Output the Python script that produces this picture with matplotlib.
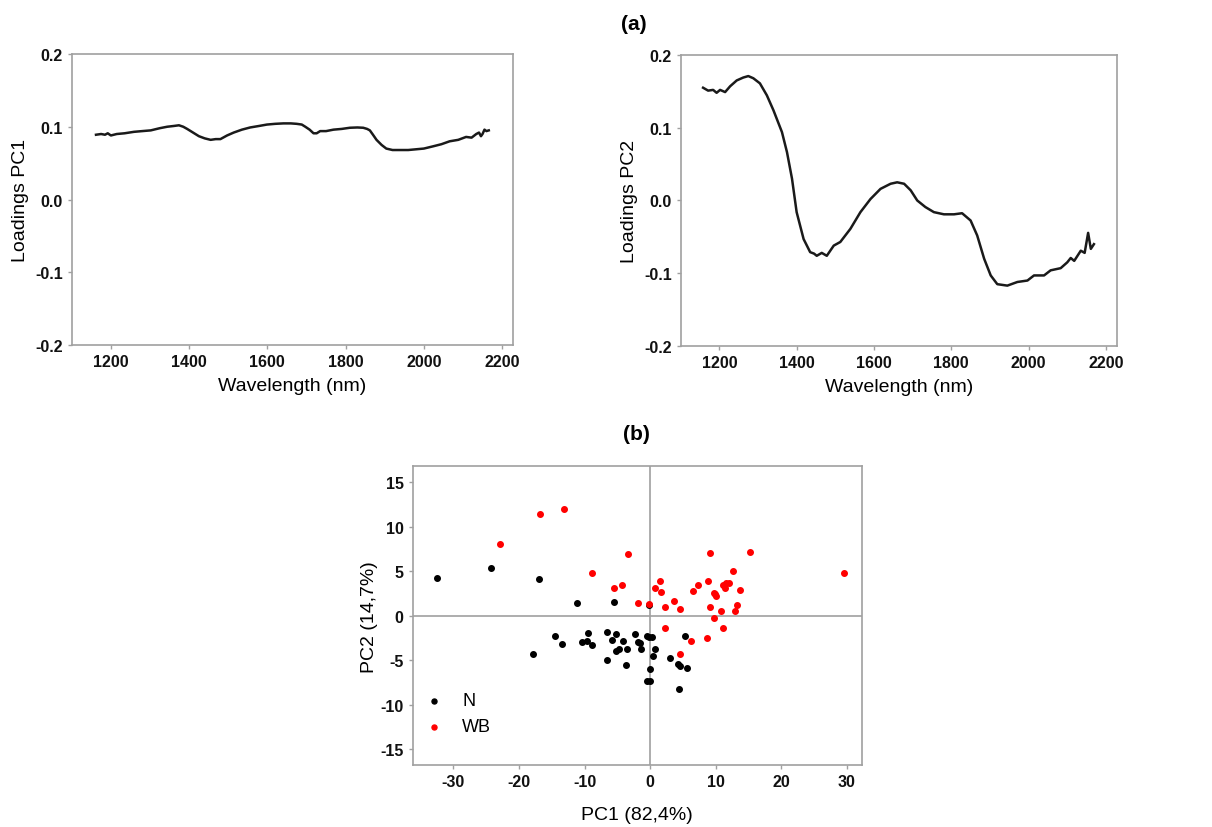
import numpy as np
import matplotlib
matplotlib.use('Agg')
import matplotlib.pyplot as plt

plt.rcParams['font.family'] = ['Liberation Sans', 'DejaVu Sans']
plt.rcParams['axes.unicode_minus'] = False

# loadings PC1
wl_pc1 = [1162, 1175, 1185, 1192, 1200, 1215, 1235, 1259, 1280, 1302, 1325, 1344, 1360, 1374,
          1385, 1395, 1410, 1425, 1440, 1455, 1468, 1480, 1497, 1514, 1535, 1556, 1578, 1599,
          1620, 1641, 1660, 1675, 1688, 1697, 1708, 1718, 1726, 1735, 1750, 1769, 1790, 1811,
          1830, 1845, 1855, 1862, 1870, 1879, 1892, 1904, 1920, 1938, 1960, 1980, 2000, 2023,
          2045, 2066, 2088, 2108, 2122, 2134, 2141, 2146, 2150, 2155, 2160, 2166]
pc1 = [0.089, 0.090, 0.089, 0.091, 0.088, 0.090, 0.091, 0.093, 0.094, 0.095, 0.098, 0.100,
       0.101, 0.102, 0.100, 0.097, 0.092, 0.087, 0.084, 0.082, 0.083, 0.083, 0.088, 0.092,
       0.096, 0.099, 0.101, 0.103, 0.104, 0.1046, 0.1046, 0.104, 0.103, 0.100, 0.096, 0.091,
       0.091, 0.094, 0.094, 0.096, 0.097, 0.0986, 0.099, 0.0986, 0.097, 0.095, 0.089, 0.082,
       0.075, 0.070, 0.068, 0.068, 0.068, 0.069, 0.070, 0.073, 0.076, 0.080, 0.082, 0.086,
       0.085, 0.090, 0.092, 0.087, 0.090, 0.096, 0.094, 0.095]

# loadings PC2
wl_pc2 = [1158, 1171, 1184, 1193, 1202, 1215, 1228, 1245, 1262, 1275, 1288, 1305, 1323, 1340,
          1362, 1375, 1388, 1400, 1418, 1435, 1445, 1452, 1465, 1478, 1496, 1513, 1539, 1565,
          1591, 1617, 1643, 1660, 1678, 1695, 1712, 1733, 1755, 1781, 1807, 1828, 1850, 1867,
          1885, 1902, 1919, 1945, 1971, 1997, 2014, 2040, 2057, 2083, 2100, 2109, 2118, 2135,
          2145, 2154, 2161, 2169]
pc2 = [0.155, 0.151, 0.152, 0.148, 0.152, 0.149, 0.157, 0.165, 0.169, 0.171, 0.168, 0.161,
       0.1445, 0.124, 0.094, 0.0665, 0.030, -0.016, -0.053, -0.071, -0.073, -0.076, -0.072,
       -0.076, -0.062, -0.057, -0.039, -0.016, 0.002, 0.016, 0.023, 0.025, 0.023, 0.014, 0.000,
       -0.009, -0.016, -0.019, -0.019, -0.0175, -0.0275, -0.048, -0.080, -0.103, -0.115, -0.117,
       -0.112, -0.110, -0.103, -0.103, -0.096, -0.093, -0.085, -0.079, -0.083, -0.069, -0.072,
       -0.0445, -0.0665, -0.060]

# scores, group N
n_pc1 = [-32.5, -24.3, -16.9, -11.1, -5.5, -0.2, -14.5, -13.5, -17.9, -10.4, -9.4, -9.6, -8.9,
         -6.5, -5.2, -5.8, -4.1, -6.6, -5.2, -4.8, -3.5, -3.7, -2.3, -1.8, -1.5, -1.4, -0.5,
         -0.1, 0.25, 0.76, 0.46, 0.05, -0.5, -0.05, 3.1, 4.3, 4.6, 5.3, 5.6, 4.4]
n_pc2 = [4.2, 5.4, 4.1, 1.45, 1.55, 1.2, -2.25, -3.2, -4.3, -3.0, -1.95, -2.8, -3.3, -1.8, -2.1,
         -2.7, -2.9, -5.0, -4.0, -3.8, -3.75, -5.5, -2.1, -3.0, -3.1, -3.8, -2.25, -2.4, -2.4,
         -3.8, -4.5, -6.0, -7.3, -7.3, -4.8, -5.4, -5.7, -2.3, -5.9, -8.2]

# scores, group WB
wb_pc1 = [-16.8, -13.2, -22.9, -3.4, -8.8, -5.5, -4.3, -1.9, -0.2, 1.5, 0.7, 1.7, 2.3, 3.7, 4.5,
          2.3, 4.6, 6.2, 6.5, 7.3, 8.6, 9.2, 8.9, 9.1, 9.8, 9.9, 10.0, 9.8, 10.8, 11.1, 11.1,
          11.4, 11.6, 12.0, 12.6, 13.7, 13.3, 12.9, 15.3, 29.6]
wb_pc2 = [11.4, 12.0, 8.1, 6.9, 4.8, 3.1, 3.5, 1.4, 1.35, 3.9, 3.15, 2.7, 1.0, 1.6, 0.75, -1.35,
          -4.3, -2.8, 2.8, 3.4, -2.5, 7.0, 3.9, 1.0, -0.3, 2.4, 2.2, 2.5, 0.5, -1.4, 3.4, 3.1,
          3.7, 3.7, 5.0, 2.9, 1.2, 0.55, 7.15, 4.8]

fig = plt.figure(figsize=(12.12, 8.28), dpi=100)
ax1 = fig.add_axes([0.0592, 0.5821, 0.3641, 0.3515])
ax2 = fig.add_axes([0.5616, 0.5809, 0.3598, 0.3515])
ax3 = fig.add_axes([0.3405, 0.0749, 0.3707, 0.3607])

grey = '#a0a0a0'

def style(ax):
    for s in ax.spines.values():
        s.set_color(grey)
        s.set_linewidth(1.2)
    ax.tick_params(axis='both', colors=grey, length=3, width=1, labelsize=11.5,
                   labelcolor='#111111')
    for t in ax.get_xticklabels() + ax.get_yticklabels():
        t.set_fontweight('bold')

for ax, wl, ld, lab in [(ax1, wl_pc1, pc1, 'Loadings PC1'), (ax2, wl_pc2, pc2, 'Loadings PC2')]:
    ax.plot(wl, ld, color='#1a1a1a', linewidth=1.8)
    ax.set_xlim(1100, 2228)
    ax.set_ylim(-0.2, 0.2)
    ax.set_xticks([1200, 1400, 1600, 1800, 2000, 2200])
    ax.set_yticks([-0.2, -0.1, 0.0, 0.1, 0.2])
    ax.set_yticklabels(['-0.2', '-0.1', '0.0', '0.1', '0.2'])
    ax.set_xlabel('Wavelength (nm)', fontsize=14, labelpad=6)
    ax.set_ylabel(lab, fontsize=14, labelpad=4)
    style(ax)

ax3.axhline(0, color=grey, linewidth=1.2, zorder=1)
ax3.axvline(0, color=grey, linewidth=1.2, zorder=1)
ax3.scatter(n_pc1, n_pc2, s=16, color='black', label='N', zorder=3)
ax3.scatter(wb_pc1, wb_pc2, s=16, color='red', label='WB', zorder=3)
ax3.set_xlim(-36.2, 32.3)
ax3.set_ylim(-16.8, 16.8)
ax3.set_xticks([-30, -20, -10, 0, 10, 20, 30])
ax3.set_yticks([-15, -10, -5, 0, 5, 10, 15])
ax3.set_xlabel('PC1 (82,4%)', fontsize=14, labelpad=12)
ax3.set_ylabel('PC2 (14,7%)', fontsize=14, labelpad=2)
style(ax3)
ax3.legend(loc='lower left', bbox_to_anchor=(-0.03, 0.045), frameon=False, fontsize=13,
           handletextpad=0.6, markerscale=0.9, labelspacing=0.5)

fig.text(0.523, 0.970, '(a)', ha='center', va='center', fontsize=15, fontweight='bold')
fig.text(0.525, 0.475, '(b)', ha='center', va='center', fontsize=15, fontweight='bold')

fig.savefig('out.png', dpi=100)
